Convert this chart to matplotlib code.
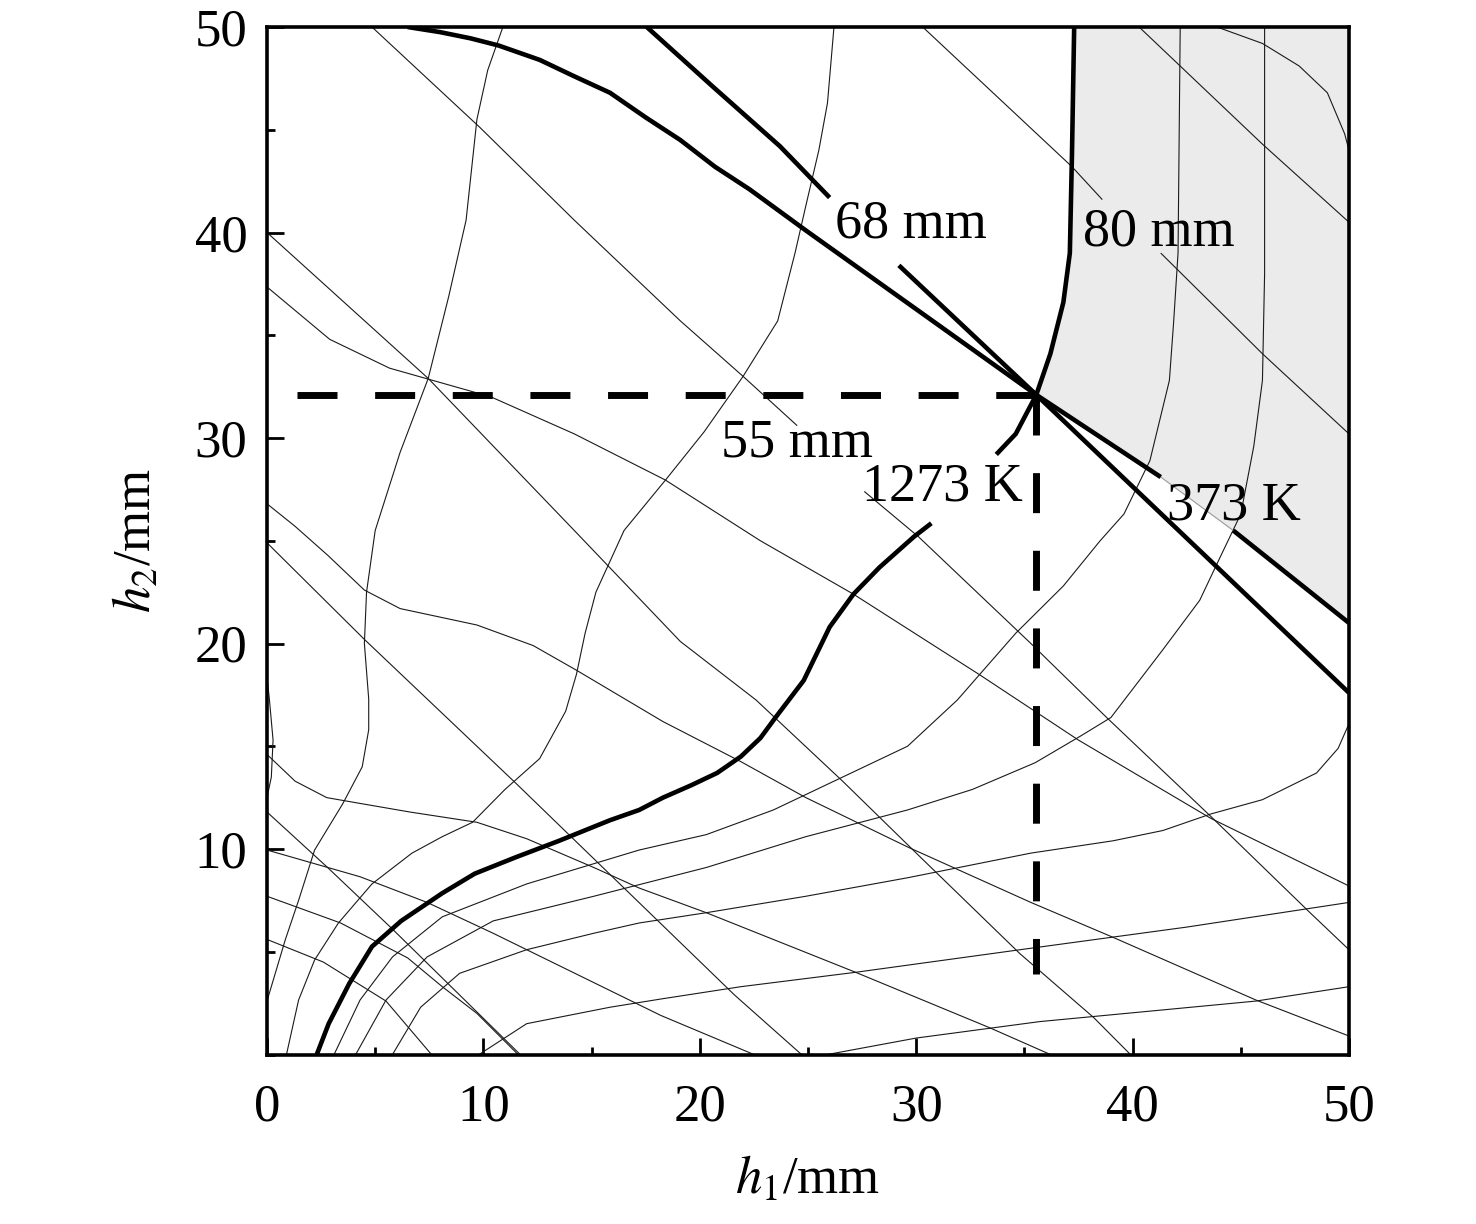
import numpy as np
import matplotlib
matplotlib.use('Agg')
import matplotlib.pyplot as plt
from matplotlib.ticker import MultipleLocator

plt.rcParams.update({
    'font.family': 'Liberation Serif',
    'mathtext.fontset': 'stix',
    'font.size': 38,
    'lines.scale_dashes': False,
})

nan = np.nan

# ---- h1 + h2 = const lines (thin), (h1, h2) in mm; nan = label gap
line_25 = [(0, 24.9), (4.5, 20.2), (11.5, 13.2), (16.5, 8.1), (21.6, 2.9), (24.7, 0)]
line_40 = [(0, 40.0), (7.45, 32.9), (14.2, 25.5), (19.1, 20.1), (22.6, 17.25), (26.6, 13.3),
           (30.1, 9.7), (34.8, 4.9), (38.2, 1.8), (39.9, 0)]
line_55 = [(4.85, 50), (9.85, 45.1), (14.2, 40.6), (19.1, 35.7), (22.0, 33.0), (24.5, 30.6),
           (nan, nan), (27.6, 27.4), (30.1, 25.2), (35.3, 20.0), (38.8, 16.4), (43.6, 11.6),
           (48.2, 6.9), (50, 5.1)]
line_80 = [(30.3, 50), (37.2, 43.2), (38.6, 41.6), (nan, nan), (41.3, 39.0), (46.0, 34.1), (50, 30.2)]
line_90 = [(40.3, 50), (46.0, 44.3), (50, 40.5)]
line_12 = [(0, 11.8), (2.8, 9.1), (5.8, 6.1), (8.8, 3.0), (11.7, 0)]

# ---- wavy descending lines (thin)
wavy_1 = [(0, 37.35), (2.9, 34.8), (5.66, 33.4), (10.35, 32.0), (14.2, 30.2), (18.4, 27.96),
          (22.8, 25.0), (27.1, 22.4), (32.9, 18.5), (37.5, 15.3), (43.6, 11.5), (50, 8.2)]
wavy_2 = [(0, 26.8), (1.3, 25.7), (2.8, 24.3), (4.5, 22.6), (6.15, 21.7), (9.7, 20.9),
          (12.3, 19.9), (14.3, 18.7), (18.3, 16.2), (21.9, 14.25), (24.9, 12.5), (29.6, 10.1),
          (35.3, 7.4), (39.1, 5.7), (45.7, 2.65), (50, 0.9)]
wavy_3 = [(0, 14.6), (1.3, 13.3), (2.76, 12.5), (4.4, 12.2), (6.6, 11.8), (9.7, 11.3),
          (12.0, 10.5), (15.1, 9.1), (17.2, 8.1), (20.3, 6.9), (27.2, 4.0), (33.4, 1.3), (36.2, 0)]
wavy_4 = [(0, 9.95), (4.3, 8.65), (7.4, 7.4), (10.45, 5.9), (15.1, 3.5), (18.2, 1.9), (22.5, 0)]
wavy_5 = [(0, 7.7), (3.4, 6.4), (6.5, 4.7), (8.1, 3.3), (9.7, 2.0), (11.6, 0)]
wavy_6 = [(0, 5.6), (2.6, 4.5), (5.5, 2.6), (7.6, 0)]

# ---- temperature isolines (thin)
iso_a = [(0, 2.6), (0.85, 5.6), (1.46, 7.5), (2.2, 9.95), (3.5, 12.2), (4.4, 14.0), (4.7, 15.8),
         (4.7, 17.3), (4.5, 20.0), (4.6, 22.5), (5.0, 25.5), (6.15, 29.3), (7.45, 32.9),
         (8.4, 36.9), (9.2, 40.6), (9.7, 45.5), (10.2, 47.9), (10.9, 50)]
iso_b = [(0.9, 0), (1.46, 2.65), (2.2, 4.6), (3.3, 6.4), (4.85, 8.3), (6.7, 9.8), (8.1, 10.6),
         (9.5, 11.3), (11.0, 12.9), (12.6, 14.4), (13.8, 16.7), (14.3, 18.5), (14.7, 20.5),
         (15.2, 22.5), (16.5, 25.5), (18.45, 28.0), (20.2, 30.3), (22.0, 33.0), (23.6, 35.7),
         (24.4, 39.0), (24.9, 41.3), (25.5, 44.0), (25.9, 46.3), (26.2, 50)]
iso_c = [(3.1, 0), (4.3, 2.65), (5.8, 4.75), (8.1, 6.7), (12.0, 8.3), (17.2, 9.95), (20.3, 10.7),
         (23.4, 11.9), (26.5, 13.45), (29.6, 15.0), (31.9, 17.25), (34.6, 20.5), (36.8, 22.8),
         (38.5, 25.0), (39.6, 26.3), (40.8, 28.9), (41.4, 31.5), (41.7, 32.8), (41.9, 35.7),
         (42.1, 39.0), (42.2, 50)]
iso_d = [(4.1, 0), (5.5, 2.65), (7.4, 4.75), (10.45, 6.5), (15.1, 7.7), (20.3, 9.1), (24.9, 10.6),
         (29.6, 11.9), (32.6, 12.9), (35.5, 14.2), (37.6, 15.5), (39.0, 16.4), (41.4, 19.7),
         (43.1, 22.1), (44.0, 24.1), (45.0, 26.3), (45.6, 29.6), (46.0, 32.8), (46.1, 38.0),
         (46.1, 50)]
iso_e = [(5.8, 0), (7.1, 2.3), (8.9, 3.95), (12.0, 5.1), (15.1, 5.9), (17.2, 6.4), (20.3, 6.9),
         (24.9, 7.7), (29.6, 8.6), (35.3, 9.8), (39.1, 10.4), (41.4, 10.9), (43.6, 11.7),
         (46.0, 12.4), (48.5, 13.7), (49.5, 14.9), (50, 16.1)]
iso_f = [(9.8, 0), (12.0, 1.5), (15.85, 2.3), (18.2, 2.7), (21.9, 3.3), (27.2, 4.0), (35.5, 5.2),
         (42.5, 6.2), (50, 7.4)]
iso_g = [(25.9, 0), (30.0, 0.8), (35.7, 1.6), (45.7, 2.6), (50, 3.3)]
iso_h = [(43.9, 50), (46.0, 49.2), (47.7, 48.1), (49.0, 46.8), (49.8, 44.8), (50, 44.0)]
edge_bump = [(0, 18.3), (0.1, 17.4), (0.28, 15.3), (0.2, 13.5), (0, 12.5)]

# ---- bold lines
line_68 = [(17.55, 50), (20.6, 47.1), (23.7, 44.2), (26.0, 41.7), (nan, nan), (29.2, 38.4),
           (35.55, 32.1), (50, 17.6)]
iso_373 = [(6.5, 50), (8.0, 49.75), (9.4, 49.45), (10.7, 49.1), (12.6, 48.4), (14.2, 47.6),
           (15.85, 46.8), (17.5, 45.6), (19.1, 44.5), (20.7, 43.2), (22.3, 42.1), (24.9, 40.1),
           (35.55, 32.1), (41.3, 28.1), (nan, nan), (44.65, 25.5), (50, 21.0)]
iso_1273 = [(2.3, 0), (2.85, 1.5), (3.8, 3.45), (4.85, 5.25), (6.2, 6.5), (8.1, 7.85), (9.6, 8.8),
            (11.5, 9.6), (13.5, 10.4), (15.85, 11.4), (17.2, 11.9), (18.3, 12.5), (19.6, 13.1),
            (20.8, 13.7), (21.9, 14.5), (22.8, 15.4), (23.5, 16.4), (24.8, 18.2), (26.0, 20.8),
            (27.1, 22.4), (28.3, 23.7), (29.9, 25.2), (30.7, 25.85), (nan, nan), (33.7, 29.2),
            (34.6, 30.2), (35.55, 32.1), (36.2, 34.1), (36.8, 36.6), (37.1, 39.0), (37.2, 43.9),
            (37.3, 50)]

# optimum point
h1_opt, h2_opt = 35.55, 32.1
dash_h_start, dash_v_end = 1.38, 3.9

labels = ['68 mm', '80 mm', '55 mm', '1273 K', '373 K']
label_pos = [(26.25, 40.4), (37.7, 40.0), (21.0, 29.75), (27.5, 27.6), (41.6, 26.7)]

thin_lines = [line_25, line_40, line_55, line_80, line_90, line_12,
              wavy_1, wavy_2, wavy_3, wavy_4, wavy_5, wavy_6,
              iso_a, iso_b, iso_c, iso_d, iso_e, iso_f, iso_g, iso_h, edge_bump]
bold_lines = [line_68, iso_373, iso_1273]

fig = plt.figure(figsize=(14.76, 12.24), dpi=100)
ax = fig.add_axes([267 / 1476, 1 - 1054.5 / 1224, (1349 - 267) / 1476, (1054.5 - 27) / 1224])

# shaded region: right of the 1273 K branch above the optimum, above the 373 K line
hot = np.array(iso_1273[-6:])
cold = np.array([iso_373[-1], iso_373[-2], iso_373[-4]])
poly = np.vstack([hot, [[50, 50]], cold])
ax.fill(poly[:, 0], poly[:, 1], color='#ebebeb', lw=0, zorder=1)

for ln in thin_lines:
    a = np.array(ln, dtype=float)
    ax.plot(a[:, 0], a[:, 1], color='#1a1a1a', lw=0.8, zorder=2, solid_capstyle='butt')

# thin link under the "373 K" label
gap = np.array([iso_373[-4], iso_373[-2]])
ax.plot(gap[:, 0], gap[:, 1], color='#999999', lw=0.8, zorder=2)

for ln in bold_lines:
    a = np.array(ln, dtype=float)
    ax.plot(a[:, 0], a[:, 1], color='k', lw=3.3, zorder=3, solid_capstyle='butt',
            solid_joinstyle='round')

ax.plot([dash_h_start, h1_opt], [h2_opt, h2_opt], color='k', lw=5, dashes=(28.8, 27.1),
        zorder=4, dash_capstyle='butt')
ax.plot([h1_opt, h1_opt], [h2_opt, dash_v_end], color='k', lw=5, dashes=(28.8, 27.1),
        zorder=4, dash_capstyle='butt')

for txt, (x, y) in zip(labels, label_pos):
    ax.text(x, y, txt, ha='left', va='center', fontsize=39, zorder=5)

ax.set_xlim(0, 50)
ax.set_ylim(0, 50)
ax.set_xticks([0, 10, 20, 30, 40, 50])
ax.set_yticks([10, 20, 30, 40, 50])
ax.xaxis.set_minor_locator(MultipleLocator(5))
ax.yaxis.set_minor_locator(MultipleLocator(5))
ax.tick_params(which='both', direction='in', top=False, right=False, width=2)
ax.tick_params(which='major', length=12)
ax.tick_params(which='minor', length=5.5)
ax.tick_params(axis='x', which='major', pad=21, labelsize=38)
ax.tick_params(axis='y', which='major', pad=14, labelsize=38)
for s in ax.spines.values():
    s.set_linewidth(2.6)

ax.set_xlabel(r'$h_1$/mm', fontsize=38, labelpad=17)
ax.set_ylabel(r'$h_2$/mm', fontsize=38, labelpad=24)

fig.savefig('out.png', dpi=100)
